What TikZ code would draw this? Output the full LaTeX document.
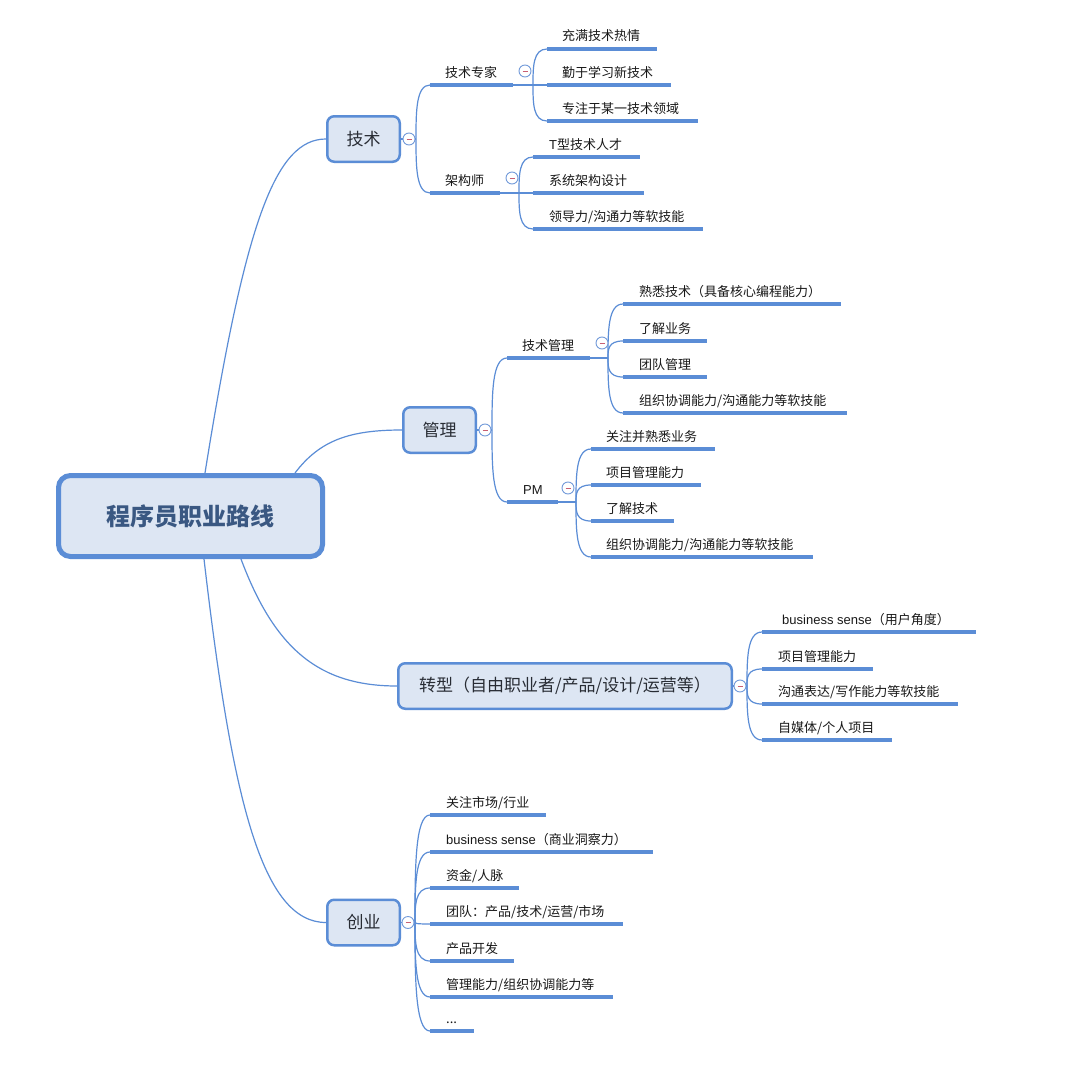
\documentclass[tikz,border=0pt]{standalone}
\usepackage{fontspec}
\setmainfont{Noto Sans CJK SC}
\newfontfamily\latfont{Liberation Sans}
\usetikzlibrary{calc}
\definecolor{lineblue}{RGB}{91,141,214}
\definecolor{boxfill}{RGB}{221,230,243}
\definecolor{roottext}{RGB}{58,88,130}
\definecolor{leaftext}{RGB}{25,25,25}
\definecolor{branchtext}{RGB}{40,44,52}
\definecolor{minusred}{RGB}{200,95,115}
\definecolor{circleblue}{RGB}{115,155,218}
\tikzset{
  rootbox/.style={draw=lineblue, fill=boxfill, line width=5pt, rounded corners=12pt,
    minimum width=264pt, minimum height=81pt, inner sep=0pt,
    font=\fontsize{24}{24}\selectfont\bfseries, text=roottext},
  branchbox/.style={draw=lineblue, fill=boxfill, line width=2.5pt, rounded corners=7pt,
    minimum width=72.5pt, minimum height=45.5pt, inner sep=0pt,
    font=\fontsize{17}{17}\selectfont, text=branchtext},
  uline/.style={draw=lineblue, line width=3.5pt},
  conn/.style={draw=lineblue, line width=1.2pt},
  leaflabel/.style={anchor=base west, inner sep=0pt, font=\fontsize{13}{13}\selectfont, text=leaftext},
  collapse/.style={circle, draw=circleblue, fill=white, line width=0.9pt, minimum size=12pt, inner sep=0pt,
    path picture={\draw[minusred, line width=0.9pt]
      ([xshift=-2.5pt]path picture bounding box.center) -- ([xshift=2.5pt]path picture bounding box.center);}}
}
% name, x start, x end, y, text offset, text
\newcommand\leafnode[6]{%
  \coordinate (#1s) at (#2,#4);
  \coordinate (#1e) at (#3,#4);
  \draw[uline] (#1s) -- (#1e);
  \node[leaflabel] (#1) at (#2+#5,#4-8) {#6};
}
% junction -> leaf start
\newcommand\bconn[2]{%
  \draw[conn] (#1) .. controls ($(#1)!0.5!(#1|-#2)$) and (#1|-#2) .. (#2);
}
\begin{document}
\begin{tikzpicture}[x=1pt,y=-1pt]
\fill[white] (0,0) rectangle (1080,1068);
\useasboundingbox (0,0) rectangle (1080,1068);

% main nodes
\node[rootbox] (root) at (190.5,516) {程序员职业路线};
\node[branchbox] (jishu) at (363.5,139) {技术};
\node[branchbox] (guanli) at (439.5,430) {管理};
\node[branchbox, minimum width=333.5pt] (zhuanxing) at (565,686) {转型（自由职业者/产品/设计/运营等）};
\node[branchbox] (chuangye) at (363.5,922.5) {创业};

% root connectors
\coordinate (r1) at ([xshift=149pt]root.north west);
\coordinate (r2) at ([xshift=239pt]root.north west);
\coordinate (r3) at ([xshift=185pt]root.south west);
\coordinate (r4) at ([xshift=148pt]root.south west);
\draw[conn] (r1) .. controls (245,223) and (275,139) .. (jishu.west);
\draw[conn] (r2) .. controls (320,440) and (350,430) .. (guanli.west);
\draw[conn] (r3) .. controls (275,650) and (320,686) .. (zhuanxing.west);
\draw[conn] (r4) .. controls (232,800) and (262,922.5) .. (chuangye.west);

% ---------- 技术 ----------
\coordinate (jJ) at (416,139);
\draw[conn] (jishu.east) -- (jJ);
\leafnode{zj}{430}{513}{85}{15}{技术专家}
\leafnode{jg}{430}{500}{193}{15}{架构师}
\bconn{jJ}{zjs}
\bconn{jJ}{jgs}

\coordinate (zjJ) at (533,85);
\draw[conn] (zje) -- (zjJ);
\leafnode{zj1}{547}{657}{49}{15}{充满技术热情}
\leafnode{zj2}{547}{671}{85}{15}{勤于学习新技术}
\leafnode{zj3}{547}{698}{121}{15}{专注于某一技术领域}
\bconn{zjJ}{zj1s}
\bconn{zjJ}{zj2s}
\bconn{zjJ}{zj3s}

\coordinate (jgJ) at (519,193);
\draw[conn] (jge) -- (jgJ);
\leafnode{jg1}{533}{640}{157}{16}{{\latfont T}型技术人才}
\leafnode{jg2}{533}{644}{193}{16}{系统架构设计}
\leafnode{jg3}{533}{703}{229}{16}{领导力/沟通力等软技能}
\bconn{jgJ}{jg1s}
\bconn{jgJ}{jg2s}
\bconn{jgJ}{jg3s}

% ---------- 管理 ----------
\coordinate (gJ) at (492,430);
\draw[conn] (guanli.east) -- (gJ);
\leafnode{jsgl}{507}{590}{358}{15}{技术管理}
\leafnode{pm}{507}{558}{502}{16}{{\latfont PM}}
\bconn{gJ}{jsgls}
\bconn{gJ}{pms}

\coordinate (jsglJ) at (608,358);
\draw[conn] (jsgle) -- (jsglJ);
\leafnode{gl1}{623}{841}{304}{16}{熟悉技术（具备核心编程能力）}
\leafnode{gl2}{623}{707}{341}{16}{了解业务}
\leafnode{gl3}{623}{707}{377}{16}{团队管理}
\leafnode{gl4}{623}{847}{413}{16}{组织协调能力/沟通能力等软技能}
\bconn{jsglJ}{gl1s}
\bconn{jsglJ}{gl2s}
\bconn{jsglJ}{gl3s}
\bconn{jsglJ}{gl4s}

\coordinate (pmJ) at (576,502);
\draw[conn] (pme) -- (pmJ);
\leafnode{pm1}{591}{715}{449}{15}{关注并熟悉业务}
\leafnode{pm2}{591}{701}{485}{15}{项目管理能力}
\leafnode{pm3}{591}{674}{521}{15}{了解技术}
\leafnode{pm4}{591}{813}{557}{15}{组织协调能力/沟通能力等软技能}
\bconn{pmJ}{pm1s}
\bconn{pmJ}{pm2s}
\bconn{pmJ}{pm3s}
\bconn{pmJ}{pm4s}

% ---------- 转型 ----------
\coordinate (zxJ) at (747,686);
\draw[conn] (zhuanxing.east) -- (zxJ);
\leafnode{zx1}{762}{976}{632}{20}{{\latfont business sense}（用户角度）}
\leafnode{zx2}{762}{873}{669}{16}{项目管理能力}
\leafnode{zx3}{762}{958}{704}{16}{沟通表达/写作能力等软技能}
\leafnode{zx4}{762}{892}{740}{16}{自媒体/个人项目}
\bconn{zxJ}{zx1s}
\bconn{zxJ}{zx2s}
\bconn{zxJ}{zx3s}
\bconn{zxJ}{zx4s}

% ---------- 创业 ----------
\coordinate (cyJ) at (415,922.5);
\draw[conn] (chuangye.east) -- (cyJ);
\leafnode{cy1}{430}{546}{815}{16}{关注市场/行业}
\leafnode{cy2}{430}{653}{852}{16}{{\latfont business sense}（商业洞察力）}
\leafnode{cy3}{430}{519}{888}{16}{资金/人脉}
\leafnode{cy4}{430}{623}{924}{16}{团队：产品/技术/运营/市场}
\leafnode{cy5}{430}{514}{961}{16}{产品开发}
\leafnode{cy6}{430}{613}{997}{16}{管理能力/组织协调能力等}
\leafnode{cy7}{430}{474}{1031}{16}{...}
\bconn{cyJ}{cy1s}
\bconn{cyJ}{cy2s}
\bconn{cyJ}{cy3s}
\bconn{cyJ}{cy4s}
\bconn{cyJ}{cy5s}
\bconn{cyJ}{cy6s}
\bconn{cyJ}{cy7s}

% collapse markers
\node[collapse] (cjishu) at (409,139) {};
\node[collapse] (czj) at (525,71) {};
\node[collapse] (cjg) at (512,178) {};
\node[collapse] (cguanli) at (485,430) {};
\node[collapse] (cjsgl) at (602,343) {};
\node[collapse] (cpm) at (568,488) {};
\node[collapse] (czx) at (740,686) {};
\node[collapse] (ccy) at (408,922.5) {};
\end{tikzpicture}
\end{document}
